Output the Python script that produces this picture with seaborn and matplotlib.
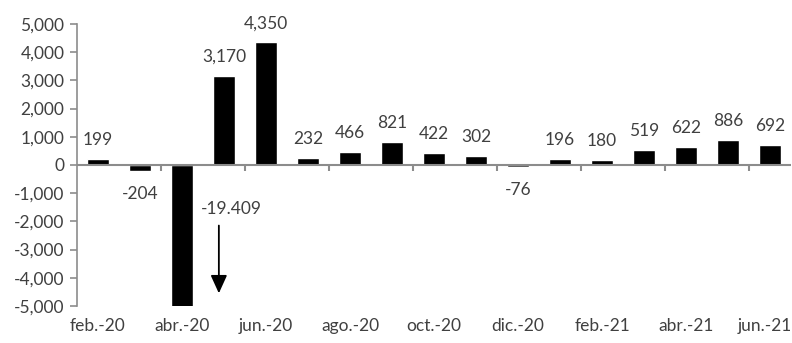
import matplotlib
matplotlib.use("Agg")
from matplotlib import pyplot as plt
from matplotlib import transforms
from matplotlib.ticker import FuncFormatter
import numpy as np
import pandas as pd
import seaborn as sns

months = ["feb.-20", "mar.-20", "abr.-20", "may.-20", "jun.-20", "jul.-20",
          "ago.-20", "sep.-20", "oct.-20", "nov.-20", "dic.-20", "ene.-21",
          "feb.-21", "mar.-21", "abr.-21", "may.-21", "jun.-21"]
values = [199, -204, -19409, 3170, 4350, 232, 466, 821, 422, 302,
          -76, 196, 180, 519, 622, 886, 692]
value_labels = ["199", "-204", "", "3,170", "4,350", "232", "466", "821", "422",
                "302", "-76", "196", "180", "519", "622", "886", "692"]
clipped_label = "-19.409"
y_ticks = [-5000, -4000, -3000, -2000, -1000, 0, 1000, 2000, 3000, 4000, 5000]

sns.set_style("white")
plt.rcParams['font.family'] = ['Lato', 'DejaVu Sans']
text_color = '#404040'
axis_color = '#8c8c8c'
fs = 12.5

df = pd.DataFrame({"month": months, "value": values})

fig = plt.figure(figsize=(7.92, 3.43), dpi=100)
ax = fig.add_axes([0.097, 0.108, 0.902, 0.822])
sns.barplot(data=df, x="month", y="value", color="black", width=0.53,
            saturation=1, ax=ax, zorder=3)
ax.set_xlim(-0.5, len(months) - 0.5)
ax.set_ylim(-5000, 5000)
ax.set_xlabel("")
ax.set_ylabel("")

# y axis
ax.set_yticks(y_ticks)
ax.yaxis.set_major_formatter(FuncFormatter(lambda v, p: f"{int(v):,}"))
ax.tick_params(axis='y', left=True, length=5, width=1.2, color=axis_color,
               labelsize=fs, labelcolor=text_color, pad=4)
for s in ['top', 'right', 'bottom']:
    ax.spines[s].set_visible(False)
ax.spines['left'].set_color(axis_color)
ax.spines['left'].set_linewidth(1.2)

# month labels at the bottom
ax.set_xticks(range(0, len(months), 2))
ax.set_xticklabels(months[::2])
ax.tick_params(axis='x', bottom=False, length=0, labelsize=fs,
               labelcolor=text_color, pad=9)
# last label sits right at the edge, nudge it in a bit
last = ax.get_xticklabels()[-1]
last.set_transform(last.get_transform() +
                   transforms.ScaledTranslation(-4 / 72, 0, fig.dpi_scale_trans))

# zero line with short ticks between every second month
boundaries = np.arange(1.5, len(months) - 1, 2)
ax.axhline(0, color=axis_color, lw=1.5, zorder=4)
ax.vlines(boundaries, -220, 0, colors=axis_color, lw=1.5, zorder=4)

# value labels
for i, (v, lab) in enumerate(zip(values, value_labels)):
    if not lab:
        continue
    if v >= 0:
        ax.annotate(lab, (i, v), xytext=(0, 8), textcoords='offset points',
                    ha='center', va='bottom', fontsize=fs, color=text_color)
    else:
        ax.annotate(lab, (i, v), xytext=(0, -11), textcoords='offset points',
                    ha='center', va='top', fontsize=fs, color=text_color)

# off-scale value
ax.text(3.17, -1560, clipped_label, ha='center', va='center', fontsize=fs,
        color=text_color)
ax.annotate("", xy=(2.88, -4650), xytext=(2.88, -2050),
            arrowprops=dict(arrowstyle='-|>,head_length=1.1,head_width=0.5',
                            color='black', lw=1.3))

fig.savefig("out.png", dpi=100)
